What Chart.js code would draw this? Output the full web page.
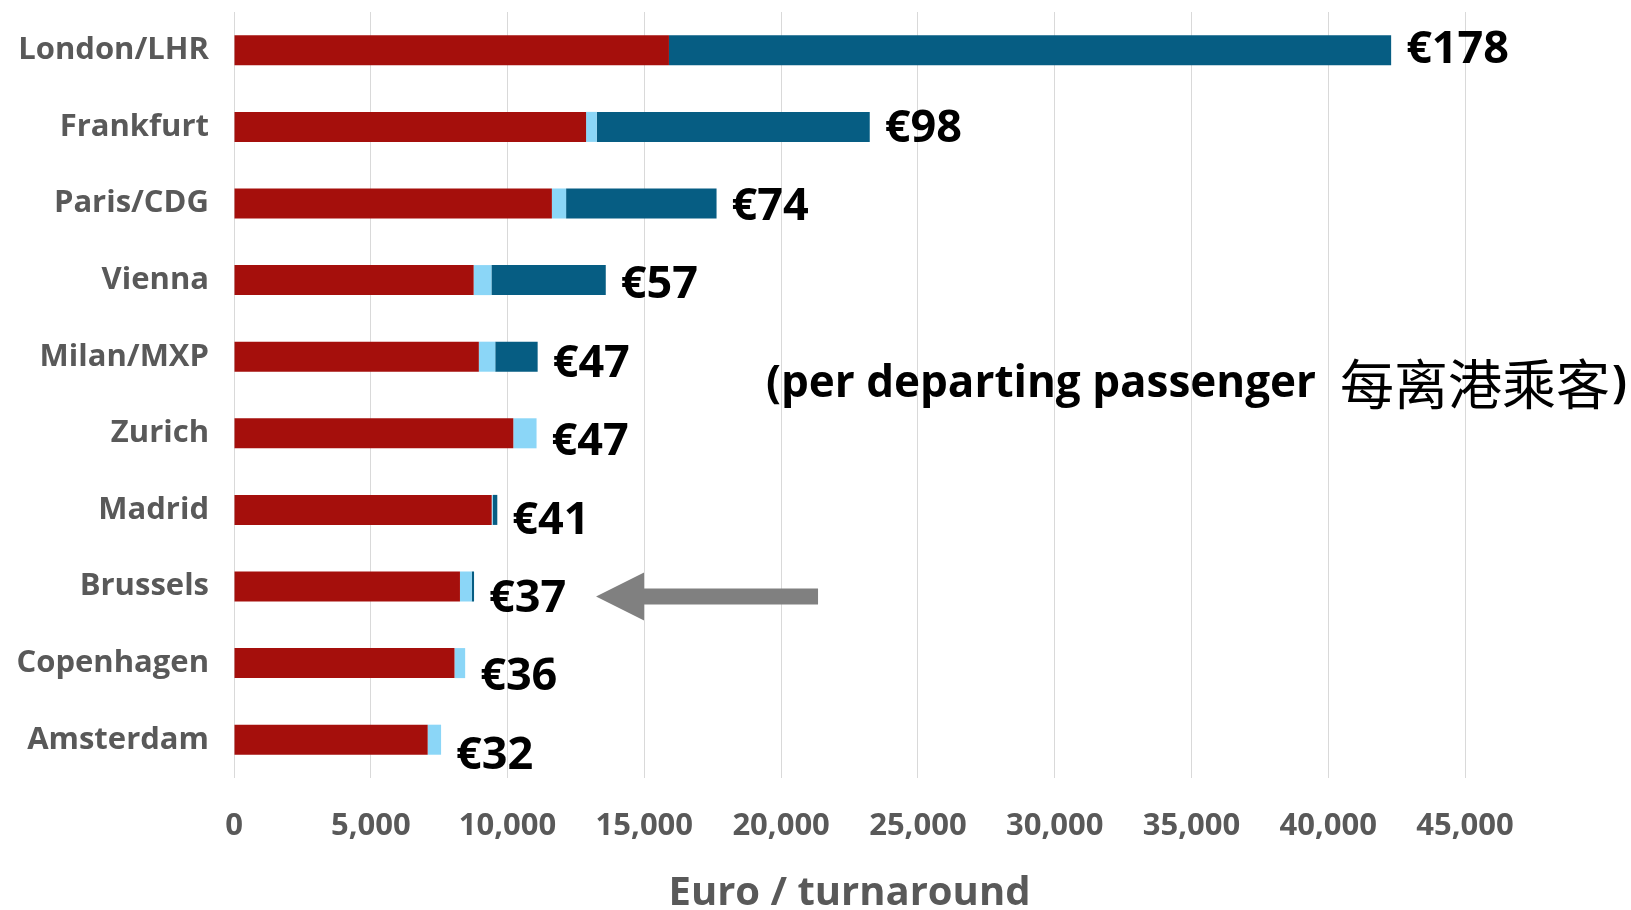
<!DOCTYPE html>
<html>
<head>
<meta charset="utf-8">
<script src="https://cdn.jsdelivr.net/npm/chart.js@4/dist/chart.umd.min.js"></script>
<style>
  html, body { margin: 0; padding: 0; background: #fff; }
  #wrap { width: 1631px; height: 910px; position: relative; }
</style>
</head>
<body>
<div id="wrap"><canvas id="myChart-airport"></canvas></div>
<script>
// airports, costs per turnaround (euro)
const airports = ['London/LHR', 'Frankfurt', 'Paris/CDG', 'Vienna', 'Milan/MXP', 'Zurich', 'Madrid', 'Brussels', 'Copenhagen', 'Amsterdam'];
const redPart = [15900, 12870, 11620, 8760, 8950, 10210, 9420, 8260, 8060, 7080];
const lightPart = [0, 390, 520, 650, 600, 850, 40, 430, 390, 490];
const darkPart = [26400, 9980, 5500, 4180, 1550, 0, 165, 85, 0, 0];
// per departing passenger
const perPassenger = [178, 98, 74, 57, 47, 47, 41, 37, 36, 32];
const xTicks = [0, 5000, 10000, 15000, 20000, 25000, 30000, 35000, 40000, 45000];
const arrowAt = 'Brussels';

const labelFont = '"Open Sans", "Noto Sans", sans-serif';

// value labels, arrow and note drawn on top
const overlay = {
    id: 'overlay',
    afterDatasetsDraw(chart) {
        const ctx = chart.ctx;
        const xs = chart.scales.x;
        const ys = chart.scales.y;
        ctx.save();
        ctx.fillStyle = '#000';
        ctx.font = 'bold 45px ' + labelFont;
        ctx.textBaseline = 'middle';
        ctx.textAlign = 'left';
        airports.forEach((a, i) => {
            const total = redPart[i] + lightPart[i] + darkPart[i];
            const x = xs.getPixelForValue(total) + 15;
            const y = ys.getPixelForValue(i) + i * 1.8;
            ctx.fillText('€' + perPassenger[i], x, y);
        });

        // arrow pointing at Brussels
        const k = airports.indexOf(arrowAt);
        const bt = redPart[k] + lightPart[k] + darkPart[k];
        const tipX = xs.getPixelForValue(bt) + 122;
        const cy = ys.getPixelForValue(k) + 10;
        ctx.fillStyle = '#808080';
        ctx.beginPath();
        ctx.moveTo(tipX, cy);
        ctx.lineTo(tipX + 48, cy - 24);
        ctx.lineTo(tipX + 48, cy - 8);
        ctx.lineTo(tipX + 222, cy - 8);
        ctx.lineTo(tipX + 222, cy + 8);
        ctx.lineTo(tipX + 48, cy + 8);
        ctx.lineTo(tipX + 48, cy + 24);
        ctx.closePath();
        ctx.fill();

        // note
        const nx = 766, ny = 384;
        ctx.fillStyle = '#000';
        ctx.font = 'bold 44px ' + labelFont;
        const latin = '(per departing passenger';
        ctx.fillText(latin, nx, ny);
        let cx = nx + ctx.measureText(latin).width + 24;
        ctx.font = '54px "Noto Sans CJK SC", sans-serif';
        const cjk = '每离港乘客';
        ctx.fillText(cjk, cx, ny);
        cx += ctx.measureText(cjk).width + 2;
        ctx.font = 'bold 44px ' + labelFont;
        ctx.fillText(')', cx, ny);
        ctx.restore();
    }
};

const ctx1 = document.getElementById('myChart-airport').getContext('2d');
const myChart1 = new Chart(ctx1, {
    type: 'bar',
    data: {
        labels: airports,
        datasets: [{
            label: 'red',
            data: redPart,
            backgroundColor: '#A50F0C',
            categoryPercentage: 0.392,
            barPercentage: 1
        }, {
            label: 'light',
            data: lightPart,
            backgroundColor: '#8BD6F7',
            categoryPercentage: 0.392,
            barPercentage: 1
        }, {
            label: 'dark',
            data: darkPart,
            backgroundColor: '#065D83',
            categoryPercentage: 0.392,
            barPercentage: 1
        }]
    },
    options: {
        indexAxis: 'y',
        responsive: true,
        maintainAspectRatio: false,
        animation: false,
        layout: { padding: { top: 12, right: 166, bottom: 0, left: 0 } },
        plugins: {
            legend: { display: false },
            tooltip: { enabled: false }
        },
        scales: {
            x: {
                stacked: true,
                min: 0,
                max: 45000,
                afterBuildTicks: (scale) => { scale.ticks = xTicks.map(v => ({ value: v })); },
                afterFit: (scale) => { scale.height = 132; },
                grid: { color: '#D9D9D9', lineWidth: 1, drawTicks: false },
                border: { display: false },
                ticks: {
                    padding: 30,
                    color: '#595959',
                    font: { family: labelFont, size: 31, weight: 'bold' },
                    callback: (v) => v.toLocaleString('en-US')
                },
                title: {
                    display: true,
                    text: 'Euro / turnaround',
                    color: '#595959',
                    padding: { top: 0, bottom: -8 },
                    font: { family: labelFont, size: 40, weight: 'bold' }
                }
            },
            y: {
                stacked: true,
                afterFit: (scale) => {
                    scale.width = 234;
                    scale.paddingTop = 0;
                    scale.paddingBottom = 0;
                },
                grid: { display: false },
                border: { display: false },
                ticks: {
                    padding: 17,
                    color: '#595959',
                    font: { family: labelFont, size: 31, weight: 'bold' }
                }
            }
        }
    },
    plugins: [overlay]
});
</script>
</body>
</html>
